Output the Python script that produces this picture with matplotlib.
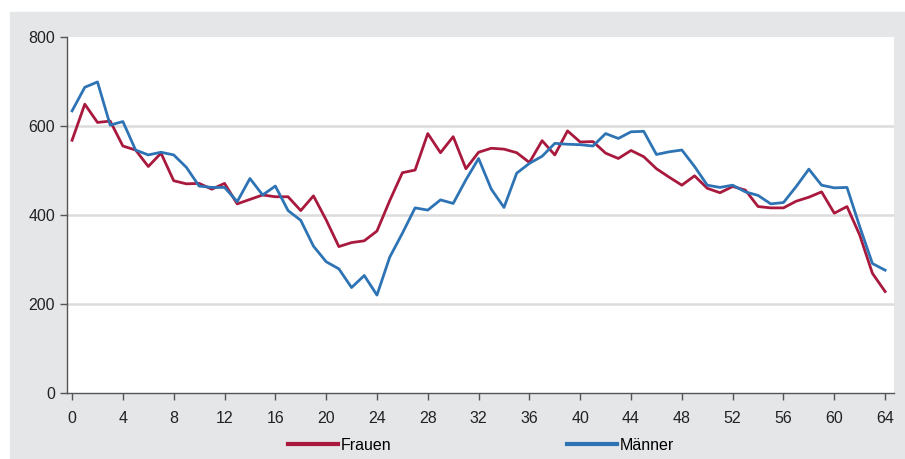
import matplotlib
matplotlib.use("Agg")
import matplotlib.pyplot as plt
import numpy as np

# Werte je Alter 0..64
alter = np.arange(0, 65)
frauen = [568, 649, 608, 611, 555, 546, 509, 539, 477, 470, 471, 458, 471, 425, 435, 445,
          441, 441, 410, 443, 389, 329, 338, 342, 364, 432, 495, 501, 583, 540, 576, 504,
          541, 550, 548, 540, 518, 567, 535, 589, 564, 565, 539, 527, 545, 531, 504, 485,
          467, 488, 460, 450, 464, 456, 419, 416, 416, 431, 440, 452, 404, 419, 355, 269, 228]
maenner = [634, 687, 699, 602, 610, 546, 535, 541, 535, 507, 465, 462, 462, 430, 482, 445,
           465, 410, 388, 330, 295, 279, 237, 264, 220, 305, 359, 416, 411, 434, 426, 479,
           527, 458, 417, 494, 516, 532, 561, 559, 558, 555, 583, 572, 587, 588, 536, 542,
           546, 509, 467, 462, 467, 452, 444, 425, 428, 464, 503, 467, 461, 462, 374, 291, 276]
x_ticks = list(range(0, 65, 4))
y_ticks = [0, 200, 400, 600, 800]

rot = "#a8193d"
blau = "#2e74b5"
grau_bg = "#e5e6e8"
schrift = ["Liberation Sans", "DejaVu Sans"]

fig = plt.figure(figsize=(9.05, 4.59), dpi=100, facecolor="white")
# grauer Rahmen hinter dem Diagramm
rahmen = plt.Rectangle((10 / 905, 0), 1, (459 - 12) / 459,
                       transform=fig.transFigure, color=grau_bg, zorder=-10)
fig.patches.append(rahmen)

ax = fig.add_axes([67 / 905, (459 - 393) / 459, (894 - 67) / 905, (393 - 37) / 459])
ax.set_zorder(1)
ax.set_facecolor("white")

ax.plot(alter, frauen, color=rot, lw=2.0, label="Frauen")
ax.plot(alter, maenner, color=blau, lw=2.0, label="Männer")

ax.set_xlim(-0.4, 64.7)
ax.set_ylim(0, 800)
ax.set_xticks(x_ticks)
ax.set_yticks(y_ticks)

for y in [200, 400, 600]:
    ax.axhline(y, color="#dcdcdc", lw=1.8, zorder=0)

for s in ["top", "right"]:
    ax.spines[s].set_visible(False)
for s in ["left", "bottom"]:
    ax.spines[s].set_color("#555555")
    ax.spines[s].set_linewidth(1.0)

ax.tick_params(axis="both", direction="out", length=5, color="#555555", width=1.0,
               labelcolor="#222222")
ax.tick_params(axis="x", pad=8)
for lab in ax.get_xticklabels() + ax.get_yticklabels():
    lab.set_family(schrift)
    lab.set_fontsize(11.5)

leg = fig.legend(loc="center", bbox_to_anchor=(481 / 905, (459 - 445) / 459), ncol=2,
                 frameon=False, handlelength=3.1, handletextpad=0.2, columnspacing=11.0,
                 prop={"family": schrift, "size": 11.5})
for h in leg.get_lines():
    h.set_linewidth(3.0)

fig.savefig("out.png", dpi=100, facecolor=fig.get_facecolor())
